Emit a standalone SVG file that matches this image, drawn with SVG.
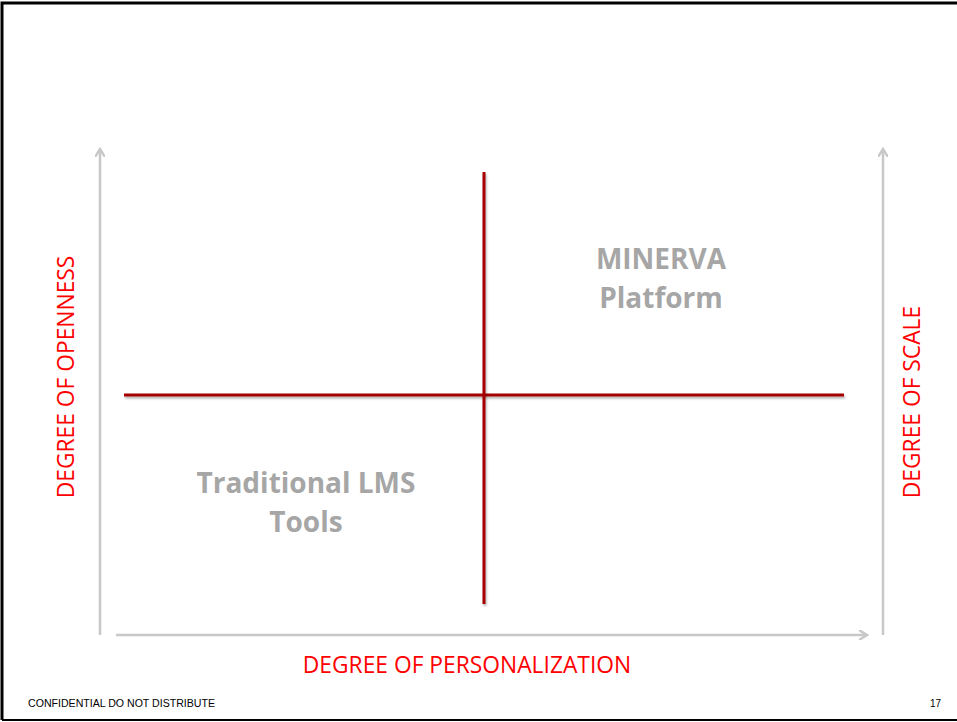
<svg xmlns="http://www.w3.org/2000/svg" width="957" height="722" viewBox="0 0 957 722">
<defs>
<style>
.ax{stroke:#c8c8c8;stroke-width:2.5;fill:none}
.quad{stroke:#a50000;stroke-width:3;fill:none}
.lbl{font-family:"Open Sans","Liberation Sans",sans-serif;font-weight:bold;font-size:28px;fill:#a6a6a6;text-anchor:middle}
.axl{font-family:"Open Sans","Liberation Sans",sans-serif;font-size:22.8px;fill:#ff0000;text-anchor:middle}
.ft{font-family:"Liberation Sans",Arial,sans-serif;font-size:10px;fill:#000}
</style>
<marker id="ah" markerWidth="10" markerHeight="10" refX="7" refY="5" orient="auto" markerUnits="userSpaceOnUse">
<path d="M0,0 L8,5 L0,10" fill="none" stroke="#c8c8c8" stroke-width="2.5"/>
</marker>
<filter id="sh" filterUnits="userSpaceOnUse" x="0" y="0" width="957" height="722">
<feDropShadow dx="1" dy="2" stdDeviation="1" flood-color="#000" flood-opacity="0.3"/>
</filter>
</defs>
<rect width="957" height="722" fill="#fff"/>
<path d="M2,720 L2,3 L957,3" fill="none" stroke="#000" stroke-width="3"/>
<path d="M2,720 L957,720" fill="none" stroke="#000" stroke-width="2"/>
<g id="connectors">
<line class="ax" x1="100" y1="635" x2="100" y2="150" marker-end="url(#ah)"/>
<line class="ax" x1="883" y1="635" x2="883" y2="150" marker-end="url(#ah)"/>
<line class="ax" x1="116" y1="635" x2="866" y2="635" marker-end="url(#ah)"/>
<line class="quad" filter="url(#sh)" x1="124" y1="395" x2="844" y2="395"/>
<line class="quad" filter="url(#sh)" x1="484" y1="172" x2="484" y2="604"/>
</g>
<g id="minerva">
<text class="lbl" x="661" y="269">MINERVA</text>
<text class="lbl" x="661" y="308">Platform</text>
</g>
<g id="traditional">
<text class="lbl" x="306" y="493">Traditional LMS</text>
<text class="lbl" x="306" y="532">Tools</text>
</g>
<g id="x-axis-label">
<text class="axl" x="467" y="673">DEGREE OF PERSONALIZATION</text>
</g>
<g id="y-axis-left">
<text class="axl" transform="translate(74,377) rotate(-90)">DEGREE OF OPENNESS</text>
</g>
<g id="y-axis-right">
<text class="axl" transform="translate(920,402) rotate(-90)">DEGREE OF SCALE</text>
</g>
<g id="footer">
<text class="ft" x="28" y="707" textLength="187" lengthAdjust="spacingAndGlyphs">CONFIDENTIAL DO NOT DISTRIBUTE</text>
<text class="ft" x="930" y="707">17</text>
</g>
</svg>
